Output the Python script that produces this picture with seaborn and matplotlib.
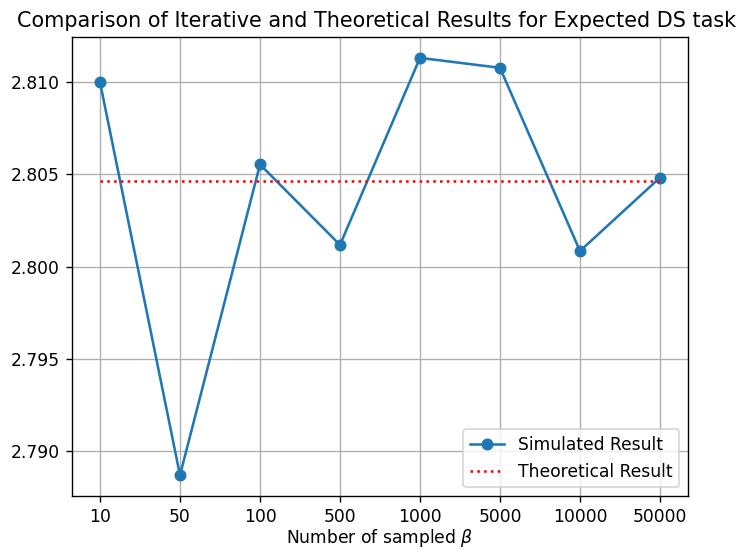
import matplotlib
matplotlib.use("Agg")
import matplotlib.pyplot as plt
import seaborn as sns
import pandas as pd

# Number of sampled beta values (plotted as ordered categories)
sample_sizes = ["10", "50", "100", "500", "1000", "5000", "10000", "50000"]
# Iteratively simulated expected DS task values
simulated = [2.8100, 2.7887, 2.80554, 2.80118, 2.81132, 2.81078, 2.80085, 2.80483]
# Closed-form theoretical value
theoretical = 2.80464

df = pd.DataFrame({"n": sample_sizes, "sim": simulated,
                   "theory": [theoretical] * len(sample_sizes)})

DPI = 123
fig = plt.figure(figsize=(741 / DPI, 549 / DPI), dpi=DPI)
ax = fig.add_axes([72 / 741, 53 / 549, (688 - 72) / 741, (496 - 37) / 549])

sns.lineplot(data=df, x="n", y="sim", ax=ax, marker="o", color="#1f77b4",
             markersize=6, markeredgecolor="#1f77b4", markeredgewidth=1,
             linewidth=1.5, label="Simulated Result", sort=False)
sns.lineplot(data=df, x="n", y="theory", ax=ax, color="red", linestyle=":",
             linewidth=1.5, label="Theoretical Result", sort=False)

ax.set_title("Comparison of Iterative and Theoretical Results for Expected DS task",
             fontsize=12.15, x=0.494)
ax.set_xlabel(r"Number of sampled $\beta$", labelpad=0.5)
ax.set_ylabel("")
ax.grid(True, color="#b0b0b0", linewidth=0.8)
ax.set_axisbelow(True)
ax.legend(loc="lower right")

fig.savefig("out.png", dpi=DPI)
